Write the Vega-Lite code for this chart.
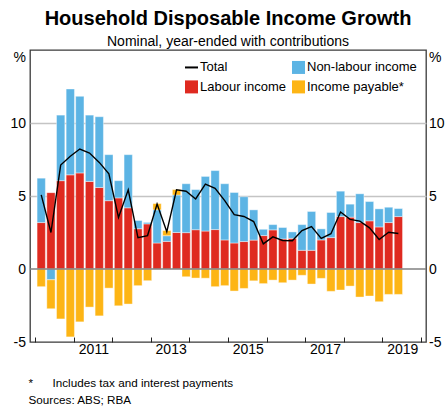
{
  "$schema": "https://vega.github.io/schema/vega-lite/v6.json",
  "width": 396,
  "height": 292,
  "autosize": {"type": "none"},
  "padding": {"left": 30, "top": 50, "right": 21, "bottom": 64},
  "background": "white",
  "config": {
    "font": "Liberation Sans",
    "view": {"stroke": "#3a3a3a", "strokeWidth": 1.3}
  },
  "title": {
    "text": "Household Disposable Income Growth",
    "subtitle": "Nominal, year-ended with contributions",
    "fontSize": 20,
    "fontWeight": "bold",
    "subtitleFontSize": 14,
    "anchor": "middle",
    "offset": 1,
    "subtitlePadding": 6,
    "color": "black",
    "subtitleColor": "black",
    "font": "Liberation Sans",
    "subtitleFont": "Liberation Sans"
  },
  "datasets": {
    "income": [
      {"date":"2010-03-01","Labour income":3.18,"Non-labour income":3.04,"Income payable*":-1.21,"total":5.08},
      {"date":"2010-06-01","Labour income":5.23,"Non-labour income":-0.74,"Income payable*":-1.98,"total":2.5},
      {"date":"2010-09-01","Labour income":6.05,"Non-labour income":4.49,"Income payable*":-3.42,"total":7.12},
      {"date":"2010-12-01","Labour income":6.45,"Non-labour income":5.88,"Income payable*":-4.65,"total":7.72},
      {"date":"2011-03-01","Labour income":6.58,"Non-labour income":5.25,"Income payable*":-3.62,"total":8.22},
      {"date":"2011-06-01","Labour income":6.0,"Non-labour income":4.54,"Income payable*":-2.61,"total":7.94},
      {"date":"2011-09-01","Labour income":5.58,"Non-labour income":4.85,"Income payable*":-3.21,"total":7.3},
      {"date":"2011-12-01","Labour income":4.68,"Non-labour income":3.15,"Income payable*":-1.31,"total":6.52},
      {"date":"2012-03-01","Labour income":4.87,"Non-labour income":1.18,"Income payable*":-2.52,"total":3.53},
      {"date":"2012-06-01","Labour income":4.19,"Non-labour income":3.64,"Income payable*":-2.4,"total":5.42},
      {"date":"2012-09-01","Labour income":2.76,"Non-labour income":0.56,"Income payable*":-1.14,"total":2.15},
      {"date":"2012-12-01","Labour income":3.09,"Non-labour income":0.1,"Income payable*":-0.8,"total":2.29},
      {"date":"2013-03-01","Labour income":1.78,"Non-labour income":2.27,"Income payable*":0.43,"total":4.45},
      {"date":"2013-06-01","Labour income":1.89,"Non-labour income":0.39,"Income payable*":0.35,"total":2.55},
      {"date":"2013-09-01","Labour income":2.5,"Non-labour income":2.57,"Income payable*":0.37,"total":5.42},
      {"date":"2013-12-01","Labour income":2.49,"Non-labour income":3.35,"Income payable*":-0.53,"total":5.33},
      {"date":"2014-03-01","Labour income":2.69,"Non-labour income":2.75,"Income payable*":-0.62,"total":4.8},
      {"date":"2014-06-01","Labour income":2.6,"Non-labour income":3.74,"Income payable*":-0.63,"total":5.82},
      {"date":"2014-09-01","Labour income":2.7,"Non-labour income":4.04,"Income payable*":-1.21,"total":5.52},
      {"date":"2014-12-01","Labour income":1.99,"Non-labour income":3.85,"Income payable*":-1.14,"total":4.68},
      {"date":"2015-03-01","Labour income":1.78,"Non-labour income":3.46,"Income payable*":-1.51,"total":3.72},
      {"date":"2015-06-01","Labour income":1.88,"Non-labour income":3.07,"Income payable*":-1.33,"total":3.6},
      {"date":"2015-09-01","Labour income":1.98,"Non-labour income":2.07,"Income payable*":-0.81,"total":3.25},
      {"date":"2015-12-01","Labour income":2.29,"Non-labour income":0.43,"Income payable*":-1.0,"total":1.72},
      {"date":"2016-03-01","Labour income":2.68,"Non-labour income":0.36,"Income payable*":-0.76,"total":2.2},
      {"date":"2016-06-01","Labour income":2.06,"Non-labour income":0.78,"Income payable*":-0.94,"total":1.95},
      {"date":"2016-09-01","Labour income":2.1,"Non-labour income":0.44,"Income payable*":-0.76,"total":1.93},
      {"date":"2016-12-01","Labour income":1.28,"Non-labour income":1.76,"Income payable*":-0.43,"total":2.63},
      {"date":"2017-03-01","Labour income":1.28,"Non-labour income":2.66,"Income payable*":-1.03,"total":2.9},
      {"date":"2017-06-01","Labour income":1.99,"Non-labour income":0.76,"Income payable*":-0.64,"total":2.1},
      {"date":"2017-09-01","Labour income":2.15,"Non-labour income":1.72,"Income payable*":-1.53,"total":2.42},
      {"date":"2017-12-01","Labour income":3.59,"Non-labour income":1.74,"Income payable*":-1.44,"total":3.9},
      {"date":"2018-03-01","Labour income":3.55,"Non-labour income":0.89,"Income payable*":-1.17,"total":3.4},
      {"date":"2018-06-01","Labour income":3.18,"Non-labour income":1.97,"Income payable*":-1.92,"total":3.28},
      {"date":"2018-09-01","Labour income":3.3,"Non-labour income":1.32,"Income payable*":-1.85,"total":2.82},
      {"date":"2018-12-01","Labour income":2.88,"Non-labour income":1.24,"Income payable*":-2.24,"total":2.02},
      {"date":"2019-03-01","Labour income":3.18,"Non-labour income":1.05,"Income payable*":-1.74,"total":2.52},
      {"date":"2019-06-01","Labour income":3.59,"Non-labour income":0.55,"Income payable*":-1.74,"total":2.43}
    ]
  },
  "data": {"name": "income"},
  "layer": [
    {
      "transform": [
        {"fold": ["Labour income", "Non-labour income", "Income payable*"], "as": ["component", "value"]},
        {"calculate": "indexof(['Labour income','Non-labour income','Income payable*'], datum.component)", "as": "stackOrder"}
      ],
      "mark": {"type": "bar", "size": 8.3, "stroke": "white", "strokeWidth": 0.5, "strokeOpacity": 0.8},
      "encoding": {
        "x": {
          "field": "date",
          "type": "temporal",
          "scale": {"type": "utc", "domain": [{"year": 2010, "month": 1, "date": 1, "utc": true}, {"year": 2020, "month": 1, "date": 1, "utc": true}]},
          "axis": {
            "tickCount": {"interval": "year", "step": 1},
            "labelExpr": "utcyear(datum.value) % 2 == 1 && utcyear(datum.value) < 2020 ? utcFormat(datum.value, '%Y') : ''",
            "labelOffset": 19.8,
            "labelAlign": "center",
            "labelOverlap": false,
            "labelFlush": false,
            "labelBound": false,
            "labelFontSize": 14,
            "labelColor": "black",
            "labelPadding": 5,
            "grid": false,
            "domain": false,
            "ticks": true,
            "tickSize": -5,
            "tickColor": "#222",
            "tickWidth": 1,
            "title": ["*\u00a0\u00a0\u00a0\u00a0\u00a0\u00a0Includes tax and interest payments", "Sources: ABS; RBA"],
            "titleFontSize": 11.7,
            "titleFontWeight": "normal",
            "titleColor": "black",
            "titleAlign": "left",
            "titleAnchor": "start",
            "titleBaseline": "alphabetic",
            "titleX": -2,
            "titleY": 44,
            "titleLineHeight": 17.3
          }
        },
        "y": {
          "field": "value",
          "type": "quantitative",
          "stack": "zero",
          "scale": {"domain": [-5, 15], "nice": false},
          "axis": {
            "orient": "left",
            "values": [-5, 0, 5, 10, 15],
            "labelExpr": "datum.value == 15 ? '%' : '' + datum.value",
            "labelBaseline": {"condition": {"test": "datum.value == 15", "value": "top"}, "value": "middle"},
            "labelFontSize": 14,
            "labelColor": "black",
            "labelPadding": 4.5,
            "labelOverlap": false,
            "labelFlush": false,
            "ticks": false,
            "domain": false,
            "grid": true,
            "gridColor": "#c4c4c4",
            "gridWidth": 1.5,
            "gridOpacity": {"condition": {"test": "datum.value == 5 || datum.value == 10", "value": 1}, "value": 0},
            "title": null
          }
        },
        "color": {
          "field": "component",
          "type": "nominal",
          "scale": {
            "domain": ["Total", "Non-labour income", "Labour income", "Income payable*"],
            "range": ["#000000", "#5cb4e4", "#df2a20", "#fdb515"]
          },
          "legend": {
            "orient": "none",
            "legendX": 155,
            "legendY": 10.7,
            "columns": 2,
            "direction": "horizontal",
            "title": null,
            "labelFontSize": 13,
            "labelColor": "black",
            "symbolSize": 169,
            "symbolType": "square",
            "symbolStrokeWidth": 0,
            "labelOffset": 2,
            "columnPadding": 6,
            "rowPadding": 5.7,
            "padding": 0,
            "labelLimit": 200,
            "encode": {
              "symbols": {
                "update": {
                  "shape": {"signal": "datum.value === 'Total' ? 'stroke' : 'square'"},
                  "stroke": {"signal": "datum.value === 'Total' ? 'black' : 'transparent'"},
                  "strokeWidth": {"signal": "datum.value === 'Total' ? 2 : 0"}
                }
              }
            }
          }
        },
        "order": {"field": "stackOrder", "type": "quantitative"}
      }
    },
    {
      "data": {"values": [{}]},
      "mark": {"type": "rule", "color": "#808080", "strokeWidth": 1.5},
      "encoding": {
        "y": {
          "datum": 0,
          "type": "quantitative",
          "scale": {"domain": [-5, 15], "nice": false},
          "axis": {
            "orient": "right",
            "values": [-5, 0, 5, 10, 15],
            "labelExpr": "datum.value == 15 ? '%' : '' + datum.value",
            "labelBaseline": {"condition": {"test": "datum.value == 15", "value": "top"}, "value": "middle"},
            "labelFontSize": 14,
            "labelColor": "black",
            "labelPadding": 2.5,
            "labelOverlap": false,
            "labelFlush": false,
            "ticks": false,
            "domain": false,
            "grid": false,
            "title": null
          }
        }
      }
    },
    {
      "mark": {"type": "line", "strokeWidth": 1.4},
      "encoding": {
        "x": {
          "field": "date",
          "type": "temporal",
          "scale": {"type": "utc", "domain": [{"year": 2010, "month": 1, "date": 1, "utc": true}, {"year": 2020, "month": 1, "date": 1, "utc": true}]},
          "axis": {
            "tickCount": {"interval": "year", "step": 1},
            "labelExpr": "utcyear(datum.value) % 2 == 1 && utcyear(datum.value) < 2020 ? utcFormat(datum.value, '%Y') : ''",
            "labelOffset": 19.8,
            "labelAlign": "center",
            "labelOverlap": false,
            "labelFlush": false,
            "labelBound": false,
            "labelFontSize": 14,
            "labelColor": "black",
            "labelPadding": 5,
            "grid": false,
            "domain": false,
            "ticks": true,
            "tickSize": -5,
            "tickColor": "#222",
            "tickWidth": 1,
            "title": ["*\u00a0\u00a0\u00a0\u00a0\u00a0\u00a0Includes tax and interest payments", "Sources: ABS; RBA"],
            "titleFontSize": 11.7,
            "titleFontWeight": "normal",
            "titleColor": "black",
            "titleAlign": "left",
            "titleAnchor": "start",
            "titleBaseline": "alphabetic",
            "titleX": -2,
            "titleY": 44,
            "titleLineHeight": 17.3
          }
        },
        "y": {"field": "total", "type": "quantitative", "scale": {"domain": [-5, 15], "nice": false}, "axis": null},
        "color": {
          "datum": "Total",
          "legend": {
            "orient": "none",
            "legendX": 155,
            "legendY": 10.7,
            "columns": 2,
            "direction": "horizontal",
            "title": null,
            "labelFontSize": 13,
            "labelColor": "black",
            "symbolSize": 169,
            "symbolType": "square",
            "symbolStrokeWidth": 0,
            "labelOffset": 2,
            "columnPadding": 6,
            "rowPadding": 5.7,
            "padding": 0,
            "labelLimit": 200,
            "encode": {
              "symbols": {
                "update": {
                  "shape": {"signal": "datum.value === 'Total' ? 'stroke' : 'square'"},
                  "stroke": {"signal": "datum.value === 'Total' ? 'black' : 'transparent'"},
                  "strokeWidth": {"signal": "datum.value === 'Total' ? 2 : 0"}
                }
              }
            }
          }
        }
      }
    }
  ],
  "resolve": {"axis": {"y": "independent"}}
}
